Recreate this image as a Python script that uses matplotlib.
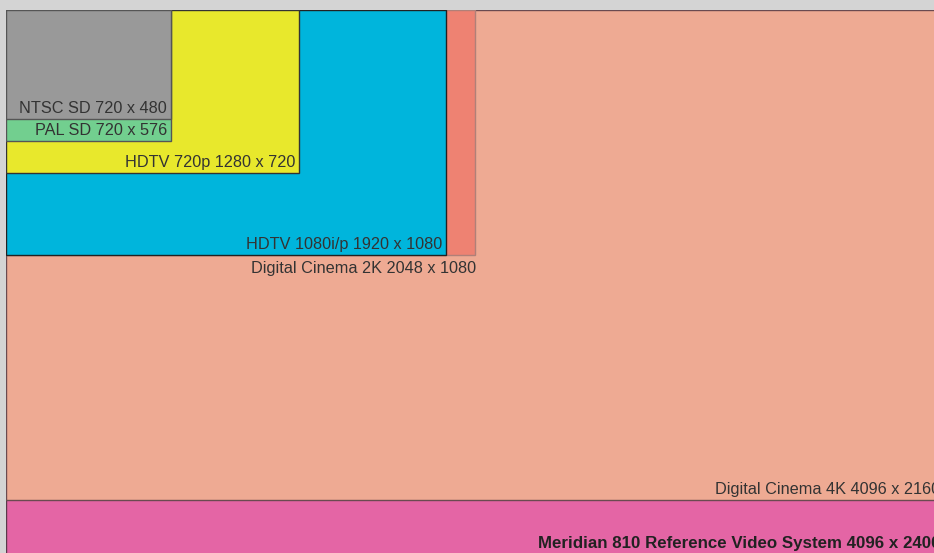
import matplotlib.pyplot as plt
from matplotlib.patches import Rectangle

plt.rcParams['font.family'] = ['Liberation Sans', 'DejaVu Sans']

# Formats, drawn back to front (largest first)
names = ['Meridian 810 Reference Video System', 'Digital Cinema 4K', 'Digital Cinema 2K',
         'HDTV 1080i/p', 'HDTV 720p', 'PAL SD', 'NTSC SD']
widths = [4096, 4096, 2048, 1920, 1280, 720, 720]
heights = [2400, 2160, 1080, 1080, 720, 576, 480]
colors = ['#e465a5', '#eeaa93', '#ee8272', '#00b5dc', '#e8e82c', '#72cf8f', '#999999']
edges = ['#5a3a4a', '#6a4a50', '#b08078', '#222222', '#333333', '#555555', '#555555']

fig = plt.figure(figsize=(9.34, 5.53), dpi=100)
fig.patch.set_facecolor('#d4d4d4')
ax = fig.add_axes([6 / 934, 0, 928 / 934, 543 / 553])
ax.set_xlim(0, 4050)
ax.set_ylim(2395, 0)
ax.axis('off')

for name, w, h, c, e in zip(names, widths, heights, colors, edges):
    ax.add_patch(Rectangle((0, 0), w, h, facecolor=c, edgecolor=e, linewidth=1.0))
    label = f'{name} {w} x {h}'
    bold = name.startswith('Meridian')
    if name == 'Digital Cinema 2K':
        # label sits below its (narrow) rectangle
        ax.annotate(label, xy=(w, h), xytext=(1, -6), textcoords='offset pixels',
                    ha='right', va='top', fontsize=11.7, color='#333333',
                    annotation_clip=False)
    else:
        ax.annotate(label, xy=(w, h), xytext=(-4, 6), textcoords='offset pixels',
                    ha='right', va='baseline', fontsize=12.2 if bold else 11.7,
                    color='#222222' if bold else '#333333',
                    fontweight='bold' if bold else 'normal', clip_on=True,
                    annotation_clip=False)

fig.savefig('out.png', dpi=100, facecolor=fig.get_facecolor())
